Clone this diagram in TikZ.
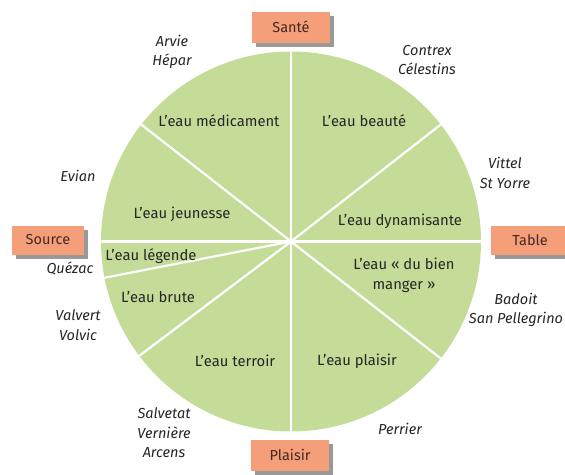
\documentclass[tikz,border=0pt]{standalone}
\usepackage{fontspec}
\setmainfont{Fira Sans}
\usetikzlibrary{shadows}
\definecolor{pie}{RGB}{196,220,152}
\definecolor{salmon}{RGB}{244,158,122}
\definecolor{ink}{RGB}{38,38,38}
\definecolor{boxink}{RGB}{70,40,35}
\tikzset{
  catbox/.style={fill=salmon, text=boxink, font=\fontsize{14.5}{16}\selectfont,
    minimum width=78pt, minimum height=31pt, inner sep=0pt,
    drop shadow={shadow xshift=4pt, shadow yshift=-4pt, fill=black, opacity=0.4}},
  brand/.style={font=\fontsize{14.5}{19.5}\selectfont\itshape, align=center, inner sep=0pt},
  seg/.style={font=\fontsize{14.8}{20}\selectfont, align=center, inner sep=0pt},
  ray/.style={white, line width=2.2pt}
}
\begin{document}
\begin{tikzpicture}[x=1pt,y=-1pt, text=ink]
\useasboundingbox (0,0) rectangle (565,474);
\coordinate (c) at (291,241.5);
\fill[pie] (c) circle[radius=190pt];
\foreach \a/\n in {90/r1,38/r2,0/r3,-38/r4,-90/r5,217/r6,191/r7,180/r8,142/r9}
  \draw[ray] (c) -- ++(\a:190pt) coordinate (\n);
% category boxes
\node[catbox] (sante) at (291,27) {Santé};
\node[catbox] (plaisir) at (290,455) {Plaisir};
\node[catbox, minimum width=72pt, minimum height=29pt] (source) at (48,240) {Source};
\node[catbox, minimum width=78pt, minimum height=29pt] (table) at (530,240) {Table};
% segment labels
\node[seg] (med) at (219,121) {L’eau médicament};
\node[seg] (bea) at (364,121) {L’eau beauté};
\node[seg] (jeu) at (182,214) {L’eau jeunesse};
\node[seg] (dyn) at (400,221) {L’eau dynamisante};
\node[seg] (leg) at (151,256) {L’eau légende};
\node[seg] (bru) at (158,297) {L’eau brute};
\node[seg] (bien) at (404,275) {L’eau « du bien\\manger »};
\node[seg] (ter) at (235,361) {L’eau terroir};
\node[seg] (pla) at (357,361) {L’eau plaisir};
% brand labels
\node[brand] (b1) at (172,52) {Arvie\\Hépar};
\node[brand] (b2) at (427,60) {Contrex\\Célestins};
\node[brand] (b3) at (505,173) {Vittel\\St Yorre};
\node[brand] (b4) at (78,176) {Evian};
\node[brand] (b5) at (70,268) {Quézac};
\node[brand] (b6) at (78,325) {Valvert\\Volvic};
\node[brand] (b7) at (516,310) {Badoit\\San Pellegrino};
\node[brand] (b8) at (164,433) {Salvetat\\Vernière\\Arcens};
\node[brand] (b9) at (400,429) {Perrier};
\end{tikzpicture}
\end{document}
